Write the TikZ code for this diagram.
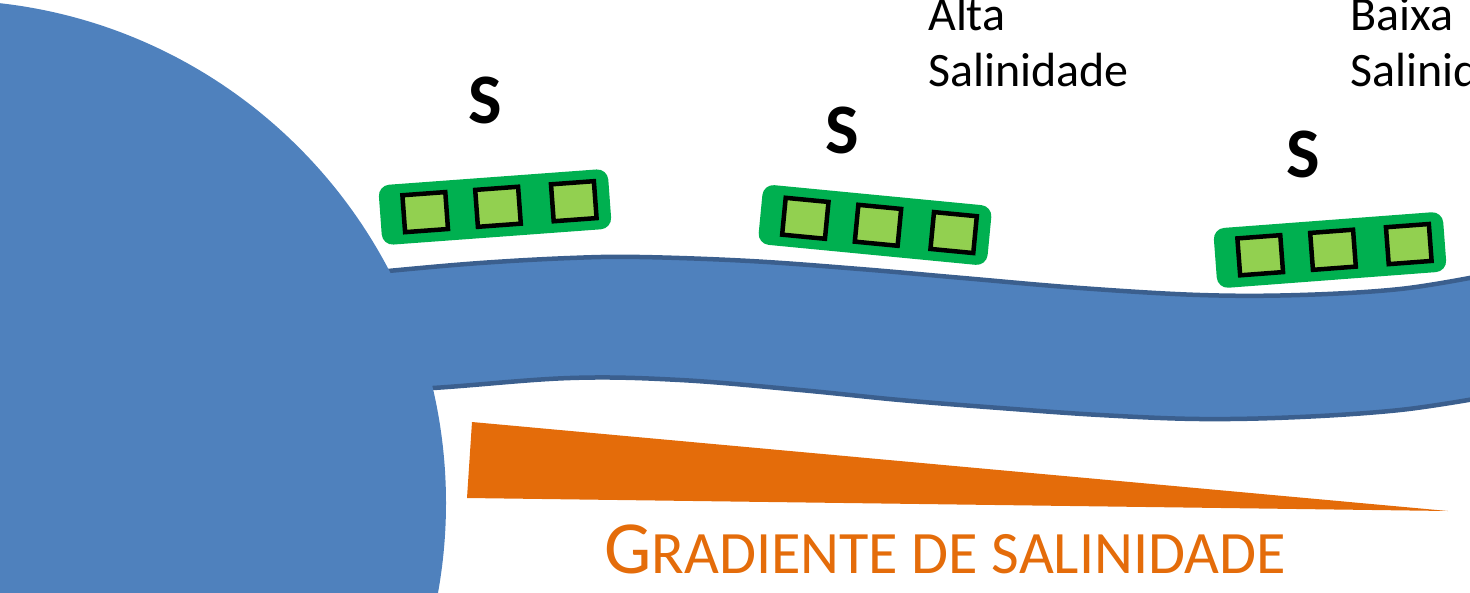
\documentclass[tikz,border=0pt]{standalone}
\usepackage{fontspec}
\setmainfont{Carlito}
\usetikzlibrary{calc}
\definecolor{ocean}{HTML}{4F81BD}
\definecolor{riveredge}{HTML}{3B5F8E}
\definecolor{boxgreen}{HTML}{00B050}
\definecolor{cellgreen}{HTML}{92D050}
\definecolor{gradorange}{HTML}{E46C0A}
\tikzset{
  gbox/.style={draw=none, fill=boxgreen, rounded corners=11pt, minimum width=230pt, minimum height=60pt, inner sep=0pt},
  cell/.style={draw=black, line width=4.5pt, fill=cellgreen, minimum width=43pt, minimum height=37pt, inner sep=0pt},
  slabel/.style={font=\fontsize{71}{85}\selectfont\bfseries, anchor=base, inner sep=0pt},
  sallabel/.style={font=\fontsize{48}{58}\selectfont, anchor=base west, inner sep=0pt},
  edge/.style={draw=riveredge, line width=4.5pt}
}
\begin{document}
\begin{tikzpicture}[x=1pt,y=-1pt]
\useasboundingbox (0,0) rectangle (1470,592);
\clip (0,0) rectangle (1470,592);
% river body
\fill[ocean] plot[smooth, tension=0.6] coordinates {(300,280) (388,271) (480,263) (570,258) (640,257) (750,261) (860,269) (963,278) (1080,288) (1200,295) (1300,295) (1400,289) (1480,276)}
  -- plot[smooth, tension=0.6] coordinates {(1480,398) (1400,410) (1300,417) (1200,419) (1100,415) (1000,408) (900,400) (800,390) (680,380) (570,378) (433,388) (300,395)} -- cycle;
\draw[edge] plot[smooth, tension=0.6] coordinates {(300,280) (388,271) (480,263) (570,258) (640,257) (750,261) (860,269) (963,278) (1080,288) (1200,295) (1300,295) (1400,289) (1480,276)};
\draw[edge] plot[smooth, tension=0.6] coordinates {(1480,398) (1400,410) (1300,417) (1200,419) (1100,415) (1000,408) (900,400) (800,390) (680,380) (570,378) (433,388) (300,395)};
% ocean
\fill[ocean] (-57,503) circle[radius=503pt];
% salinity wedge
\coordinate (w1) at (472,422);
\coordinate (w2) at (1448,511);
\coordinate (w3) at (467,498);
\fill[gradorange] (w1) -- (w2) -- (w3) -- cycle;
\node[anchor=base west, inner sep=0pt, text=gradorange] (grad) at (604,573) {{\fontsize{75}{90}\selectfont G}{\fontsize{60.2}{72}\selectfont RADIENTE DE SALINIDADE}};
% boxes
\begin{scope}[shift={(495,207)}, rotate=4.2, transform shape]
  \node[gbox] (b1) at (0,0) {};
  \node[cell] (b1c1) at (-70,0) {};
  \node[cell] (b1c2) at (3,0) {};
  \node[cell] (b1c3) at (79,0) {};
\end{scope}
\begin{scope}[shift={(875,225)}, rotate=-5.5, transform shape]
  \node[gbox] (b2) at (0,0) {};
  \node[cell] (b2c1) at (-70,0) {};
  \node[cell] (b2c2) at (3,0) {};
  \node[cell] (b2c3) at (79,0) {};
\end{scope}
\begin{scope}[shift={(1330,250)}, rotate=4.3, transform shape]
  \node[gbox] (b3) at (0,0) {};
  \node[cell] (b3c1) at (-70,0) {};
  \node[cell] (b3c2) at (3,0) {};
  \node[cell] (b3c3) at (79,0) {};
\end{scope}
% S labels
\node[slabel] (s1) at (485,123) {S};
\node[slabel] (s2) at (842,153) {S};
\node[slabel] (s3) at (1303,177) {S};
% salinity labels
\node[sallabel] (alta1) at (928,30) {Alta};
\node[sallabel] (alta2) at (928,86) {Salinidade};
\node[sallabel] (baixa1) at (1350,30) {Baixa};
\node[sallabel] (baixa2) at (1350,86) {Salinidade};
\end{tikzpicture}
\end{document}
